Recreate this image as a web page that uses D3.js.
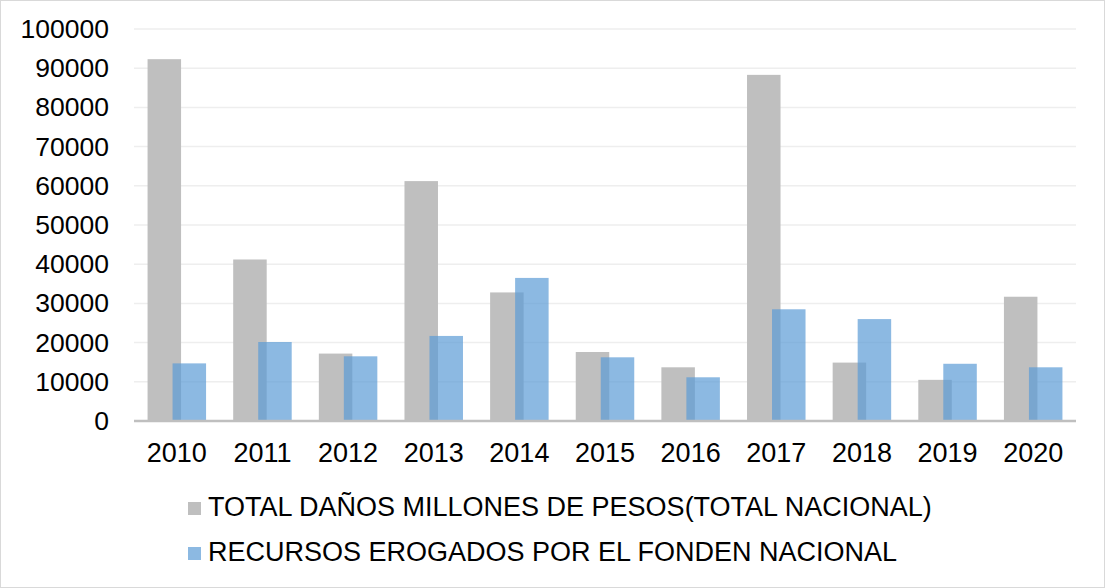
<!DOCTYPE html>
<html>
<head>
<meta charset="utf-8">
<script src="https://cdn.jsdelivr.net/npm/d3@7"></script>
<style>
  html, body { margin: 0; padding: 0; background: #fff; }
  svg { display: block; font-family: "Liberation Sans", Arial, sans-serif; }
</style>
</head>
<body>
<svg id="chart"></svg>
<script>
const years = ["2010", "2011", "2012", "2013", "2014", "2015", "2016", "2017", "2018", "2019", "2020"];
const totalDanos = [92300, 41200, 17200, 61200, 32800, 17600, 13700, 88300, 14900, 10500, 31700];
const recursosFonden = [14700, 20150, 16500, 21700, 36500, 16250, 11150, 28500, 26000, 14600, 13700];
const yTicks = [0, 10000, 20000, 30000, 40000, 50000, 60000, 70000, 80000, 90000, 100000];
const seriesNames = ["TOTAL DAÑOS MILLONES DE PESOS(TOTAL NACIONAL)", "RECURSOS EROGADOS POR EL FONDEN NACIONAL"];

const width = 1105, height = 588;
const margin = {top: 29, right: 29, bottom: 167, left: 134};
const svg = d3.select("#chart").attr("width", width).attr("height", height);

// outer frame
svg.append("rect")
    .attr("x", 0.5).attr("y", 0.5)
    .attr("width", width - 1).attr("height", height - 1)
    .attr("fill", "#fff").attr("stroke", "#d9d9d9");

const xScale = d3.scaleBand()
    .domain(years)
    .range([margin.left, width - margin.right]);

const yScale = d3.scaleLinear()
    .domain([0, 100000])
    .range([height - margin.bottom, margin.top]);

// grid
svg.append("g")
    .selectAll("line")
    .data(yTicks.slice(1)).enter()
    .append("line")
    .attr("x1", margin.left).attr("x2", width - margin.right)
    .attr("y1", d => yScale(d)).attr("y2", d => yScale(d))
    .attr("stroke", "#eeeeee")
    .attr("stroke-width", 1.5);

const barW = 33.5;
const shift = 25;

// grey bars
svg.append("g")
    .selectAll("rect")
    .data(totalDanos).enter()
    .append("rect")
    .attr("x", (d, i) => xScale(years[i]) + xScale.bandwidth() / 2 - (barW + shift) / 2)
    .attr("y", d => yScale(d))
    .attr("width", barW)
    .attr("height", d => yScale(0) - yScale(d))
    .attr("fill", "#bfbfbf");

// blue bars, semi transparent over the grey
svg.append("g")
    .selectAll("rect")
    .data(recursosFonden).enter()
    .append("rect")
    .attr("x", (d, i) => xScale(years[i]) + xScale.bandwidth() / 2 - (barW + shift) / 2 + shift)
    .attr("y", d => yScale(d))
    .attr("width", barW)
    .attr("height", d => yScale(0) - yScale(d))
    .attr("fill", "#5b9bd5")
    .attr("fill-opacity", 0.7);

// baseline
svg.append("line")
    .attr("x1", margin.left).attr("x2", width - margin.right)
    .attr("y1", yScale(0)).attr("y2", yScale(0))
    .attr("stroke", "#bfbfbf")
    .attr("stroke-width", 2.5);

// y axis labels
const yAxis = d3.axisLeft(yScale).tickValues(yTicks).tickSize(0).tickPadding(0).tickFormat(d3.format("d"));
svg.append("g")
    .attr("transform", `translate(${margin.left - 25},0)`)
    .call(yAxis)
    .call(g => g.select(".domain").remove())
    .selectAll("text")
    .attr("font-size", "26.5px")
    .attr("font-family", "Liberation Sans, Arial, sans-serif")
    .attr("fill", "#000");

// x axis labels
const xAxis = d3.axisBottom(xScale).tickSize(0).tickPadding(0);
svg.append("g")
    .attr("transform", `translate(0,${yScale(0) + 22})`)
    .call(xAxis)
    .call(g => g.select(".domain").remove())
    .selectAll("text")
    .attr("font-size", "27px")
    .attr("font-family", "Liberation Sans, Arial, sans-serif")
    .attr("fill", "#000");

// legend
const legendColors = ["#bfbfbf", "#8cb9e2"];
const legend = svg.append("g")
    .selectAll("g")
    .data(seriesNames).enter()
    .append("g")
    .attr("transform", (d, i) => `translate(188,${502 + i * 45})`);

legend.append("rect")
    .attr("width", 13).attr("height", 13)
    .attr("fill", (d, i) => legendColors[i]);

legend.append("text")
    .attr("x", 20)
    .attr("y", 13.5)
    .attr("font-size", "27px")
    .attr("fill", "#000")
    .text(d => d);
</script>
</body>
</html>
